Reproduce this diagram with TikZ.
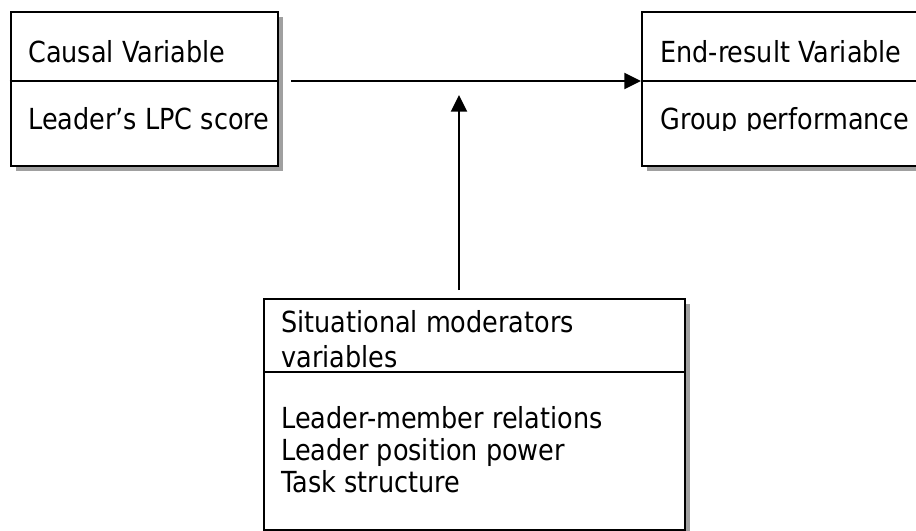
\documentclass[tikz,border=0pt]{standalone}
\usepackage{fontspec}
\usetikzlibrary{arrows.meta,shadows}
\newfontfamily\boxfont[FakeStretch=0.88]{DejaVu Sans}
\definecolor{shadowgray}{RGB}{160, 160, 160}

\begin{document}
\begin{tikzpicture}[
        x=0.75pt, y=-0.75pt,
        box/.style={draw=black, line width=1.5pt, fill=white, anchor=north west, inner sep=0,
            drop shadow={shadow xshift=3.75pt, shadow yshift=-3.75pt, fill=shadowgray, opacity=1}},
        txt/.style={anchor=base west, inner sep=0, font=\boxfont\fontsize{21.75pt}{26.25pt}\selectfont},
        arr/.style={line width=1.7pt, -{Triangle[length=12.5pt,width=12pt]}}
    ]
    \useasboundingbox (0,0) rectangle (916,531);
    \clip (0,0) rectangle (916,531);

    % boxes
    \node[box, minimum width=200.6pt, minimum height=115.5pt] (causal) at (9.5,11) {};
    \node[box, minimum width=225pt, minimum height=115.5pt] (result) at (641,11) {};
    \node[box, minimum width=315.75pt, minimum height=173.25pt] (moder) at (263,298) {};
    \draw[line width=1.5pt] (causal.west |- 0,81) -- (causal.east |- 0,81);
    \draw[line width=1.5pt] (result.west |- 0,81) -- (result.east |- 0,81);
    \draw[line width=1.5pt] (moder.west |- 0,372) -- (moder.east |- 0,372);

    % texts
    \node[txt] (causalhead) at (28,63) {Causal Variable};
    \node[txt] (causalbody) at (28,130) {Leader’s LPC score};
    \node[txt] (resulthead) at (660,63) {End-result Variable};
    \begin{scope}
        \clip (641,11) rectangle (916,131);
        \node[txt] (resultbody) at (660,130) {Group performance};
    \end{scope}
    \node[txt] (moderhead1) at (281,332) {Situational moderators};
    \node[txt] (moderhead2) at (281,367) {variables};
    \foreach \line [count=\i] in {Leader-member relations, Leader position power, Task structure}
        \node[txt] (moderbody\i) at (281,396+32*\i) {\line};

    % arrows
    \coordinate (hstart) at (291,81);
    \coordinate (vtip) at (459,95);
    \draw[arr] (hstart) -- (result.west |- hstart);
    \draw[arr] ([yshift=6pt]vtip |- moder.north) -- (vtip);
\end{tikzpicture}
\end{document}
